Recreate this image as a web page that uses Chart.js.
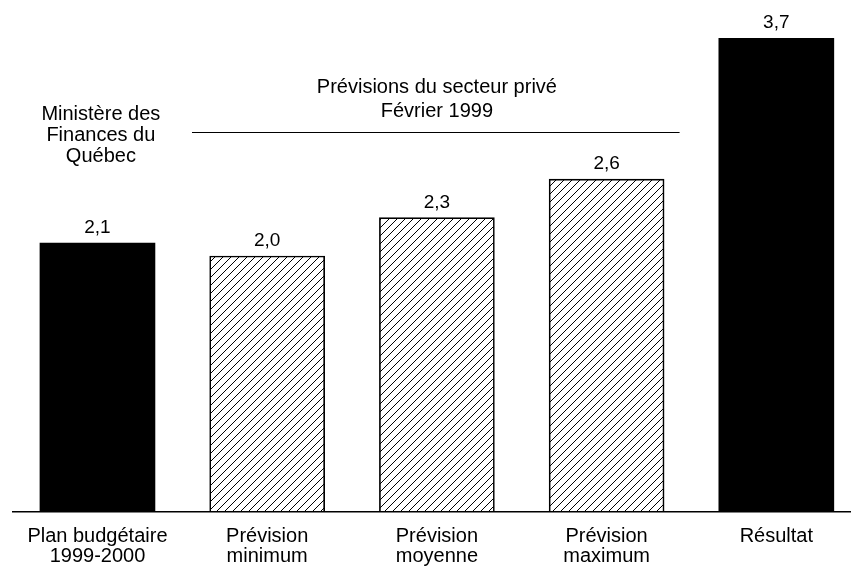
<!DOCTYPE html>
<html>
<head>
<meta charset="utf-8">
<script src="https://cdn.jsdelivr.net/npm/chart.js@4/dist/chart.umd.min.js"></script>
<style>
  body { margin: 0; background: #fff; overflow: hidden; }
  #wrap { width: 851px; height: 567px; }
</style>
</head>
<body>
<div id="wrap"><canvas id="chart"></canvas></div>
<script>
// données
const categories = [
    ['Plan budgétaire', '1999-2000'],
    ['Prévision', 'minimum'],
    ['Prévision', 'moyenne'],
    ['Prévision', 'maximum'],
    ['Résultat']
];
const valeurs = [2.1, 2.0, 2.3, 2.6, 3.7];
const hachure = [false, true, true, true, false];
const etiquettes = ['2,1', '2,0', '2,3', '2,6', '3,7'];

const titrePrive = ['Prévisions du secteur privé', 'Février 1999'];
const titreMinistere = ['Ministère des', 'Finances du', 'Québec'];

const POLICE = 'Liberation Sans, Arial, sans-serif';

function motifHachure() {
    const c = document.createElement('canvas');
    c.width = 8; c.height = 8;
    const g = c.getContext('2d');
    g.strokeStyle = '#000';
    g.lineWidth = 1;
    g.beginPath();
    g.moveTo(0, 8); g.lineTo(8, 0);
    g.moveTo(-2, 2); g.lineTo(2, -2);
    g.moveTo(6, 10); g.lineTo(10, 6);
    g.stroke();
    return g.createPattern(c, 'repeat');
}

const motif = motifHachure();

// texte au-dessus des barres + annotations
const pluginTextes = {
    id: 'textes',
    afterDatasetsDraw(chart) {
        const ctx = chart.ctx;
        const xs = chart.scales.x, ys = chart.scales.y;
        const meta = chart.getDatasetMeta(0);
        ctx.save();
        ctx.fillStyle = '#000';
        ctx.textAlign = 'center';
        ctx.textBaseline = 'alphabetic';
        ctx.font = '19px ' + POLICE;
        meta.data.forEach((bar, i) => {
            ctx.fillText(etiquettes[i], bar.x, bar.y - 10);
        });

        ctx.font = '20px ' + POLICE;
        const xc = xs.getPixelForValue(2);
        titrePrive.forEach((t, i) => {
            ctx.fillText(t, xc, ys.getPixelForValue(3.27) + i * 23.5);
        });
        const xm = xs.getPixelForValue(0.02);
        titreMinistere.forEach((t, i) => {
            ctx.fillText(t, xm, ys.getPixelForValue(3.06) + i * 21);
        });

        const yl = Math.round(ys.getPixelForValue(2.97)) + 0.5;
        ctx.strokeStyle = '#000';
        ctx.lineWidth = 1.2;
        ctx.beginPath();
        ctx.moveTo(xs.getPixelForValue(0.557), yl);
        ctx.lineTo(xs.getPixelForValue(3.43), yl);
        ctx.stroke();
        ctx.restore();
    }
};

new Chart(document.getElementById('chart'), {
    type: 'bar',
    data: {
        datasets: [{
            data: valeurs.map((v, i) => ({ x: i, y: v })),
            backgroundColor: hachure.map(h => h ? motif : '#000'),
            borderColor: '#000',
            borderWidth: hachure.map(h => h ? 1 : 0),
            barThickness: 115
        }]
    },
    options: {
        responsive: true,
        maintainAspectRatio: false,
        animation: false,
        layout: { padding: { left: 12.6, right: 0, top: 0, bottom: 0 } },
        plugins: { legend: { display: false }, tooltip: { enabled: false } },
        scales: {
            x: {
                type: 'linear',
                offset: false,
                min: -0.5,
                max: 4.44,
                afterBuildTicks: s => { s.ticks = categories.map((c, i) => ({ value: i })); },
                afterFit: s => { s.height = 55; },
                grid: { display: false, drawTicks: false },
                border: { display: true, color: '#000', width: 1.5 },
                ticks: {
                    autoSkip: false,
                    maxRotation: 0,
                    padding: 14,
                    color: '#000',
                    font: { family: POLICE, size: 20, lineHeight: 1.0 },
                    callback: v => categories[v]
                }
            },
            y: {
                display: false,
                min: 0,
                max: 4
            }
        }
    },
    plugins: [pluginTextes]
});
</script>
</body>
</html>
